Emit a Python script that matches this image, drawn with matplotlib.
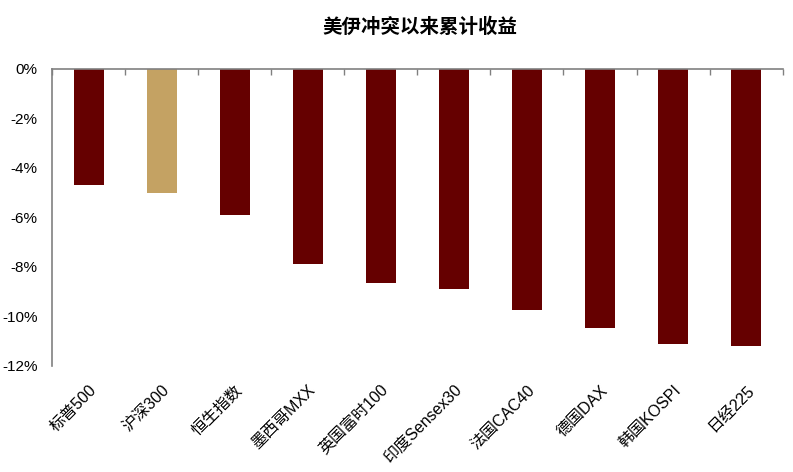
import numpy as np
import matplotlib.pyplot as plt
from matplotlib.ticker import FuncFormatter

plt.rcParams['font.family'] = ['Liberation Sans', 'Noto Sans CJK SC', 'DejaVu Sans']

# data (cumulative return, %)
indices = ['标普500', '沪深300', '恒生指数', '墨西哥MXX', '英国富时100',
           '印度Sensex30', '法国CAC40', '德国DAX', '韩国KOSPI', '日经225']
returns = [-4.7, -5.0, -5.9, -7.9, -8.65, -8.9, -9.75, -10.45, -11.1, -11.2]
highlight = '沪深300'

dark_red = '#650000'
gold = '#C4A263'
colors = [gold if n == highlight else dark_red for n in indices]

fig = plt.figure(figsize=(7.93, 4.72), dpi=100)
ax = fig.add_axes([0.0656, 0.2246, 0.9214, 0.6294])

x = np.arange(len(indices))
ax.bar(x, returns, width=0.41, color=colors, zorder=2)

ax.set_xlim(-0.5, len(indices) - 0.5)
ax.set_ylim(-12, 0)
ax.set_yticks(np.arange(-12, 1, 2))
ax.yaxis.set_major_formatter(FuncFormatter(lambda v, p: '%d%%' % v))
ax.tick_params(axis='y', length=0, labelsize=11, pad=10.5, colors='black')

# category labels under the plot, boundary ticks on the top axis
ax.set_xticks(x)
ax.set_xticklabels(indices, rotation=45, ha='right', rotation_mode='anchor', fontsize=11.5)
ax.tick_params(axis='x', which='major', length=0, pad=12)
ax.set_xticks(np.arange(-0.5, len(indices), 1), minor=True)
ax.tick_params(axis='x', which='minor', top=True, bottom=False, direction='in',
               length=4, width=1, color='#808080')

for s in ['right', 'bottom']:
    ax.spines[s].set_visible(False)
for s in ['left', 'top']:
    ax.spines[s].set_color('#808080')
    ax.spines[s].set_linewidth(1.2)

fig.text(0.530, 0.943, '美伊冲突以来累计收益', ha='center', va='center',
         fontsize=14, fontweight='bold')

fig.savefig('out.png', dpi=100)
